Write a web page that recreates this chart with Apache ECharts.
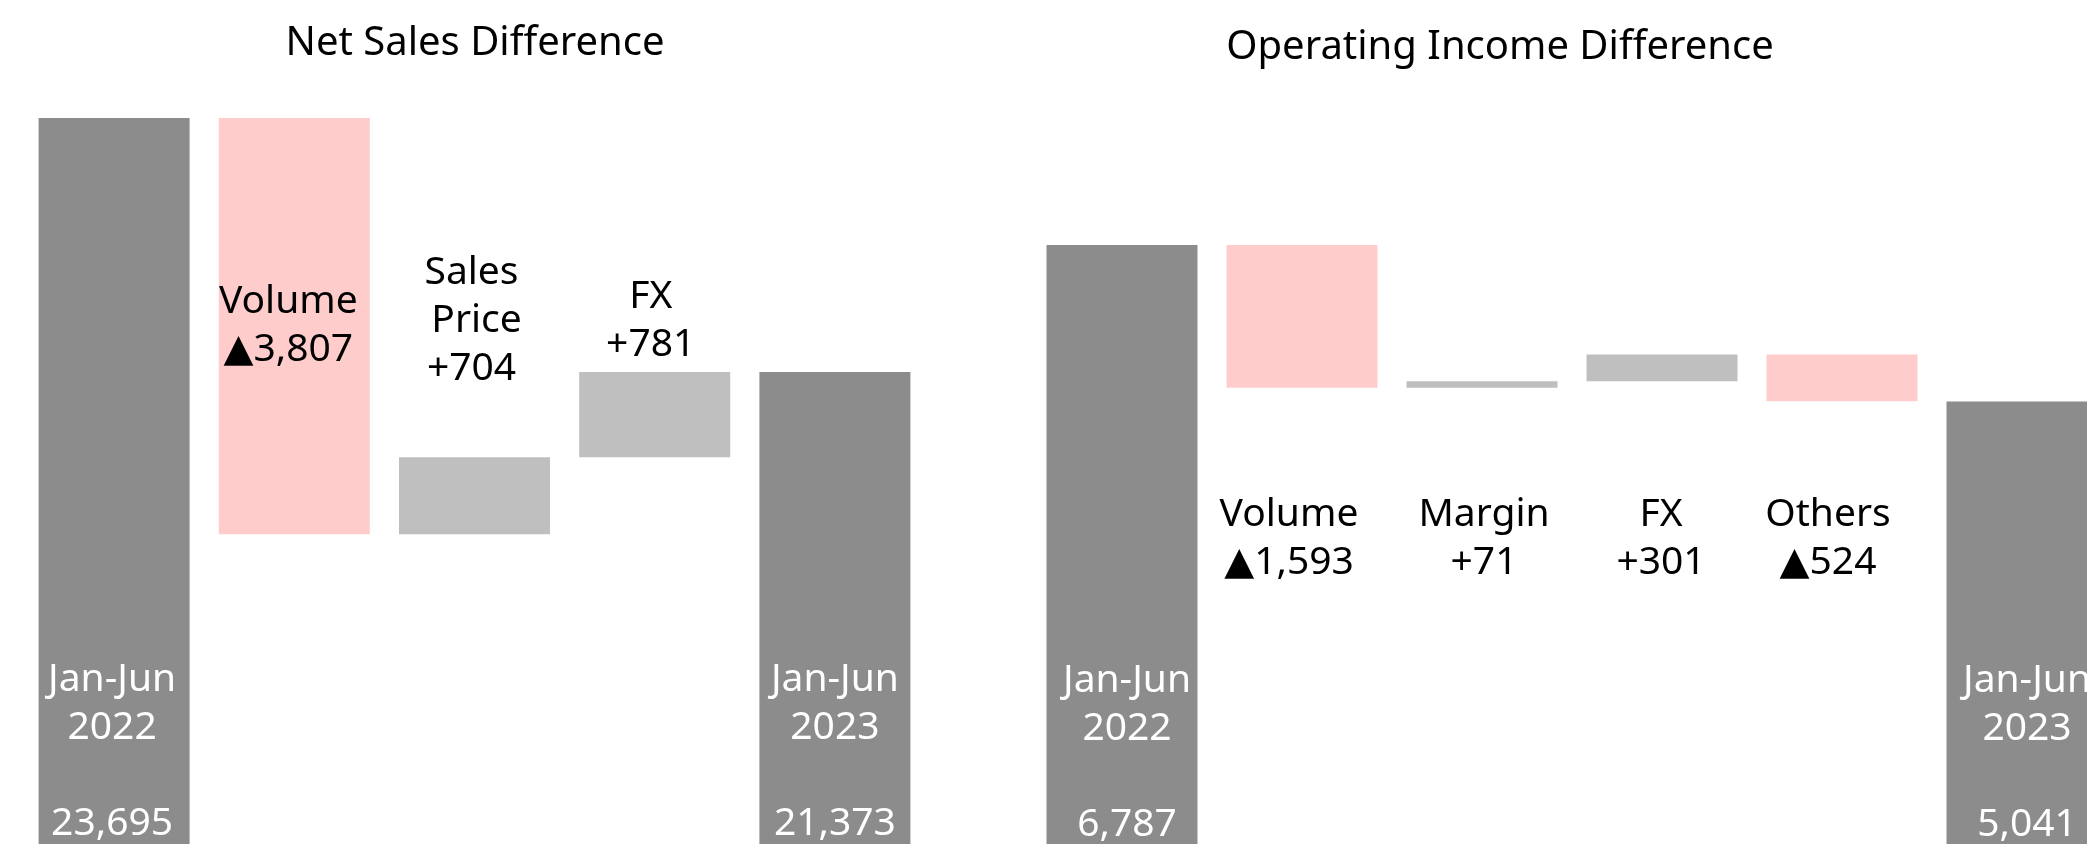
<!DOCTYPE html>
<html>
<head>
<meta charset="utf-8">
<title>Net Sales / Operating Income Difference</title>
<script src="https://cdn.jsdelivr.net/npm/echarts@6/dist/echarts.min.js"></script>
<style>
html, body { margin: 0; padding: 0; background: #fff; overflow: hidden; }
/* the right-hand bridge runs past the window edge, so the canvas is a bit larger than the view */
#chart { width: 2120px; height: 860px; }
</style>
</head>
<body>
<div id="chart"></div>
<script>
// Net sales bridge
const salesCategories = ['Jan-Jun\n2022', 'Volume', 'Sales\n Price', 'FX', 'Jan-Jun\n2023']
const salesStart = 23695
const salesDeltas = [-3807, 704, 781]
const salesEnd = 21373

// Operating income bridge
const incomeCategories = ['Jan-Jun\n2022', 'Volume', 'Margin', 'FX', 'Others', 'Jan-Jun\n2023']
const incomeStart = 6787
const incomeDeltas = [-1593, 71, 301, -524]
const incomeEnd = 5041

const FONT = '"Noto Sans", "Open Sans", "DejaVu Sans", sans-serif'
const TOTAL_COLOR = '#8c8c8c'
const UP_COLOR = '#bfbfbf'
const DOWN_COLOR = '#ffcccc'

// where each label sits relative to its bar
const salesLabelSpots = [
	{ position: 'insideBottom', distance: 2, dx: -2 },
	{ position: 'insideTop', distance: 160, dx: -6 },
	{ position: 'top', distance: 64, dx: -3 },
	{ position: 'top', distance: 3, dx: -4 },
	{ position: 'insideBottom', distance: 2, dx: 0 }
]
const incomeLabelSpots = [
	{ position: 'insideBottom', distance: 4, dx: 5 },
	{ position: 'bottom', distance: 103, dx: -13 },
	{ position: 'bottom', distance: 103, dx: 2 },
	{ position: 'bottom', distance: 110, dx: -1 },
	{ position: 'bottom', distance: 90, dx: -14 },
	{ position: 'insideBottom', distance: 4, dx: 5 }
]

const fmt = v => v.toLocaleString('en-US')
const deltaText = v => (v < 0 ? '\u25B2' + fmt(-v) : '+' + fmt(v))

// invisible base + visible piece for every step of the bridge
const buildBridge = (start, deltas, end) => {
	const base = [0]
	const bars = [start]
	let run = start
	deltas.forEach(d => {
		const next = run + d
		base.push(Math.min(run, next))
		bars.push(Math.abs(d))
		run = next
	})
	base.push(0)
	bars.push(end)
	return { base, bars }
}

const bridgeSeries = (idx, categories, start, deltas, end, spots) => {
	const { base, bars } = buildBridge(start, deltas, end)
	const last = bars.length - 1
	return [
		{
			type: 'bar',
			xAxisIndex: idx,
			yAxisIndex: idx,
			stack: 'bridge' + idx,
			barWidth: 151,
			silent: true,
			itemStyle: { color: 'transparent' },
			data: base
		},
		{
			type: 'bar',
			xAxisIndex: idx,
			yAxisIndex: idx,
			stack: 'bridge' + idx,
			barWidth: 151,
			silent: true,
			data: bars.map((v, i) => {
				const isTotal = i === 0 || i === last
				const d = deltas[i - 1]
				const spot = spots[i]
				return {
					value: v,
					itemStyle: { color: isTotal ? TOTAL_COLOR : (d < 0 ? DOWN_COLOR : UP_COLOR) },
					label: {
						show: true,
						position: spot.position,
						distance: spot.distance,
						offset: [spot.dx, 0],
						formatter: isTotal ? `${categories[i]}\n\n${fmt(v)}` : `${categories[i]}\n${deltaText(d)}`,
						color: isTotal ? '#ffffff' : '#000000',
						fontFamily: FONT,
						fontSize: 39,
						lineHeight: 48,
						align: 'center'
					}
				}
			})
		}
	]
}

const chart = echarts.init(document.getElementById('chart'))

const option = {
	animation: false,
	backgroundColor: '#ffffff',
	graphic: [
		{
			type: 'text',
			x: 475,
			y: 44,
			style: { text: 'Net Sales Difference', fontFamily: FONT, fontSize: 40, fill: '#000', align: 'center', verticalAlign: 'middle' }
		},
		{
			type: 'text',
			x: 1500,
			y: 48,
			style: { text: 'Operating Income Difference', fontFamily: FONT, fontSize: 40, fill: '#000', align: 'center', verticalAlign: 'middle' }
		}
	],
	grid: [
		{ left: 24, top: 118, width: 901, bottom: 10 },
		{ left: 1032, top: 245, width: 1080, bottom: 7 }
	],
	xAxis: [
		{ gridIndex: 0, type: 'category', data: salesCategories, show: false },
		{ gridIndex: 1, type: 'category', data: incomeCategories, show: false }
	],
	yAxis: [
		{ gridIndex: 0, type: 'value', min: 17000, max: salesStart, show: false, splitLine: { show: false } },
		{ gridIndex: 1, type: 'value', min: 0, max: incomeStart, show: false, splitLine: { show: false } }
	],
	series: [
		...bridgeSeries(0, salesCategories, salesStart, salesDeltas, salesEnd, salesLabelSpots),
		...bridgeSeries(1, incomeCategories, incomeStart, incomeDeltas, incomeEnd, incomeLabelSpots)
	]
}

chart.setOption(option)
</script>
</body>
</html>
